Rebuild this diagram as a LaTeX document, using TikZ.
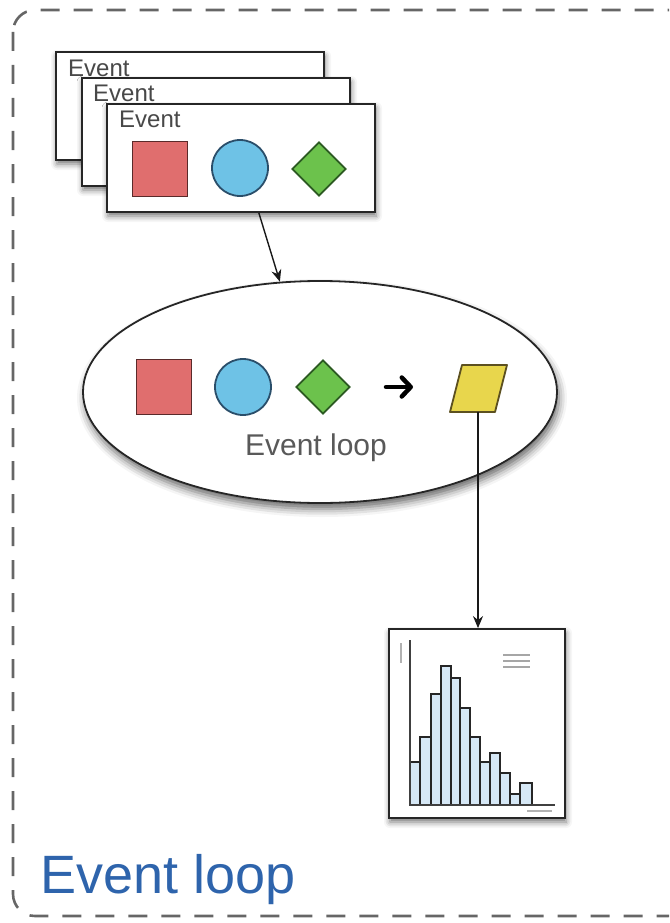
\documentclass[tikz,border=0pt]{standalone}
\usepackage{fontspec}
\setmainfont{Liberation Sans}
\usetikzlibrary{shapes.geometric,shadows.blur,arrows.meta}
\definecolor{redf}{HTML}{E06E6E}
\definecolor{redd}{HTML}{5A2A2A}
\definecolor{bluef}{HTML}{6EC2E6}
\definecolor{blued}{HTML}{2A4E6A}
\definecolor{greenf}{HTML}{6CC24C}
\definecolor{greend}{HTML}{2C5A22}
\definecolor{yelf}{HTML}{E8D64C}
\definecolor{yeld}{HTML}{5C5020}
\definecolor{barf}{HTML}{D6E8F6}
\definecolor{labblue}{HTML}{2E64AC}
\definecolor{txtgray}{HTML}{484848}
\begin{document}
\begin{tikzpicture}[x=1pt,y=-1pt,
  shad/.style={blur shadow={shadow xshift=1pt,shadow yshift=-4pt,shadow blur radius=6pt,shadow opacity=55}},
  card/.style={draw=black!85,line width=1.8pt,fill=white,minimum width=268pt,minimum height=108pt,inner sep=0pt,shad},
  cardtxt/.style={anchor=base west,inner sep=0pt,text=txtgray,font=\fontsize{24}{28}\selectfont},
  sq/.style={draw=redd,fill=redf,line width=1.8pt,minimum size=55pt,inner sep=0pt},
  circ/.style={draw=blued,fill=bluef,line width=1.8pt,circle,minimum size=56pt,inner sep=0pt},
  dia/.style={draw=greend,fill=greenf,line width=1.8pt,diamond,minimum size=54pt,inner sep=0pt},
  conn/.style={draw=black!90,line width=1.4pt,-{Stealth[length=12pt,width=10pt]}}
]
\useasboundingbox (0,0) rectangle (669,923);
\clip (0,0) rectangle (669,923);
% outer dashed frame
\draw[black!60,line width=2.6pt,dash pattern=on 19pt off 14pt,rounded corners=22pt] (13,10) rectangle (690,916);
\node[anchor=base west,inner sep=0pt,text=labblue,font=\fontsize{54}{60}\selectfont] (title) at (40,893) {Event loop};
% cards
\node[card] (card1) at (190,106) {};
\node[cardtxt] (t1) at (68,77) {Event};
\node[card] (card2) at (216,132) {};
\node[cardtxt] (t2) at (93,102) {Event};
\node[card] (card3) at (241,158) {};
\node[cardtxt] (t3) at (119,128) {Event};
\node[sq] (sq1) at (160,169) {};
\node[circ] (ci1) at (240,168) {};
\node[dia] (di1) at (319,169) {};
% ellipse
\node[ellipse,draw=black!85,line width=1.8pt,fill=white,minimum width=474pt,minimum height=222pt,inner sep=0pt,
  blur shadow={shadow xshift=2pt,shadow yshift=-6pt,shadow blur radius=8pt,shadow opacity=60}] (ell) at (320,392) {};
\node[sq] (sq2) at (164,387) {};
\node[circ] (ci2) at (243,387) {};
\node[dia] (di2) at (323,387) {};
\coordinate (ba) at (386,387);
\coordinate (bb) at (413,387);
\draw[line width=4.5pt,line cap=round,-{Straight Barb[length=9pt,width=19pt,line cap=round,line join=round]}] (ba) -- (bb);
\draw[draw=yeld,fill=yelf,line width=1.8pt,line join=round] (450,412) -- (495,412) -- (507,365) -- (462,365) -- cycle;
\coordinate (parb) at (478,412);
\node[anchor=base,inner sep=0pt,text=black!65,font=\fontsize{30}{34}\selectfont] (elltxt) at (316,455) {Event loop};
% histogram box
\node[draw=black!85,line width=1.8pt,fill=white,minimum width=176pt,minimum height=189pt,inner sep=0pt,shad] (hist) at (477,723.5) {};
\foreach \xa/\xb/\yt in {410/420/762,420/431/737,431/441/694,441/451/666,451/460/678,460/470/708,470/480/737,480/490/762,490/500/753,500/510/773,510/520/794,520/532/783}{
  \draw[fill=barf,draw=black!85,line width=1.6pt] (\xa,805) rectangle (\xb,\yt);
}
\draw[black!75,line width=1.6pt] (410,640) -- (410,805) -- (555,805);
\draw[black!30,line width=1.4pt] (401,643) -- (401,663);
\draw[black!35,line width=1.8pt] (503,655) -- (530,655) (503,661) -- (530,661) (503,667) -- (530,667);
\draw[black!30,line width=1.2pt] (527,811) -- (552,811);
% connectors
\draw[conn] (card3.-72) -- (ell.110);
\draw[conn] (parb) -- (hist.north -| parb);
\end{tikzpicture}
\end{document}
